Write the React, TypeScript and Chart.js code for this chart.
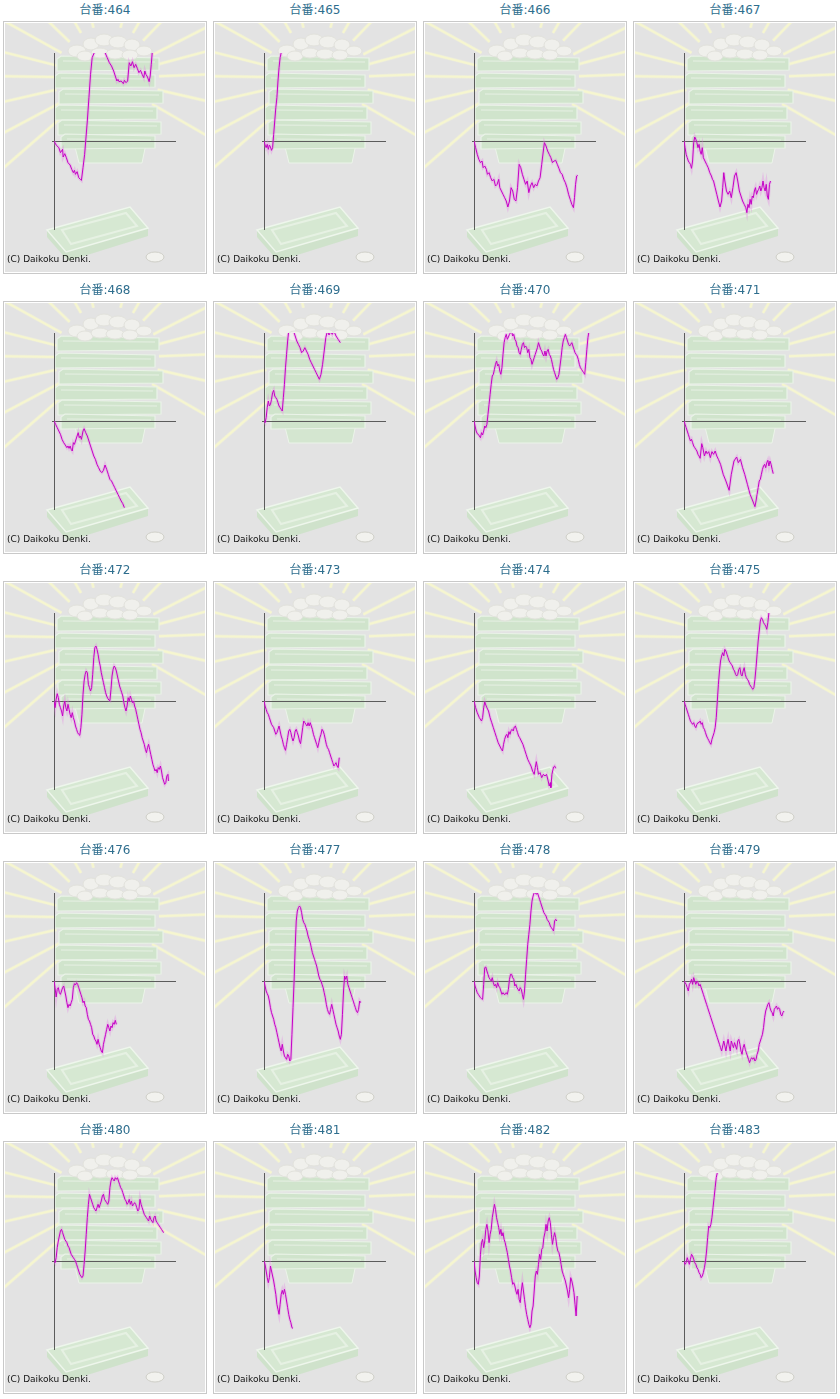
import React, { useEffect, useRef } from 'react';
import { Chart, registerables } from 'chart.js';

Chart.register(...registerables);

// 台番 (machine numbers), left to right, top to bottom
const machineNumbers = [
  '464', '465', '466', '467', '468', '469', '470', '471', '472', '473',
  '474', '475', '476', '477', '478', '479', '480', '481', '482', '483',
];

// axis range: games played (x) and coin difference (y)
const GAMES_MAX = 9080;
const COINS_LIMIT = 2640;

// each series: [games, coin difference]
const slump464 = [
  [0, 0], [160, -120], [360, -200], [480, -350], [640, -250], [680, -480], [800, -380], [920, -500],
  [1040, -650], [1200, -720], [1320, -850], [1440, -950], [1520, -880], [1600, -1000], [1720, -920],
  [1840, -1100], [1960, -1150], [2040, -1180], [2160, -800], [2280, -400], [2360, 0], [2480, 600],
  [2600, 1300], [2720, 2000], [2840, 2500], [3000, 2650], [3240, 3100], [3480, 3200], [3800, 2650],
  [3960, 2500], [4120, 2350], [4280, 2250], [4440, 2100], [4560, 1950], [4680, 1800], [4760, 1850],
  [4840, 1780], [5000, 1800], [5160, 1720], [5240, 1820], [5360, 1750], [5480, 1800], [5600, 2350],
  [5720, 2250], [5840, 2380], [5960, 2200], [6080, 2300], [6200, 2180], [6320, 2050], [6440, 2120],
  [6560, 2000], [6680, 1900], [6760, 2100], [6840, 2000], [6960, 1920], [7080, 1780], [7160, 1950],
  [7240, 2300], [7320, 2700],
];

const slump465 = [
  [0, 0], [80, -120], [160, -200], [240, -100], [320, -250], [400, -120], [480, -180], [560, -280],
  [640, -200], [720, 200], [800, 600], [880, 1000], [960, 1300], [1040, 1800], [1120, 2200],
  [1200, 2500], [1280, 2650], [1360, 2900],
];

const slump466 = [
  [0, 0], [120, -200], [240, -400], [360, -550], [480, -650], [600, -600], [680, -800], [800, -750],
  [920, -850], [1000, -1000], [1120, -950], [1240, -1100], [1360, -1200], [1480, -1150], [1600, -1350],
  [1720, -1300], [1840, -1150], [1920, -1400], [2040, -1500], [2160, -1600], [2280, -1700], [2400, -1800],
  [2520, -1980], [2640, -1800], [2760, -1400], [2880, -1500], [3000, -1750], [3120, -1800], [3240, -1400],
  [3360, -700], [3480, -800], [3600, -1000], [3720, -1150], [3840, -1300], [3960, -1200], [4080, -1550],
  [4200, -1350], [4320, -1250], [4440, -1400], [4560, -1300], [4680, -1350], [4800, -1200], [4920, -1100],
  [5040, -700], [5160, -300], [5240, -50], [5360, -150], [5480, -300], [5600, -400], [5720, -500],
  [5840, -650], [5960, -600], [6080, -580], [6200, -700], [6320, -820], [6440, -950], [6560, -1000],
  [6680, -1150], [6800, -1250], [6920, -1400], [7040, -1600], [7160, -1750], [7280, -1900], [7400, -2000],
  [7480, -1700], [7560, -1300], [7640, -1050], [7720, -1030],
];

const slump467 = [
  [0, 0], [80, -200], [160, -400], [240, -500], [320, -600], [400, -650], [480, -700], [560, -820],
  [640, -600], [720, -50], [800, 120], [880, 50], [960, -50], [1040, -200], [1120, -100], [1200, -300],
  [1280, -400], [1360, -200], [1440, -500], [1560, -600], [1680, -700], [1800, -800], [1920, -950],
  [2040, -1050], [2120, -1150], [2200, -1200], [2320, -1400], [2440, -1600], [2560, -1800], [2680, -1980],
  [2800, -1800], [2880, -1400], [2960, -950], [3040, -1200], [3160, -1500], [3280, -1600], [3400, -1500],
  [3520, -1700], [3640, -1400], [3760, -1050], [3880, -950], [4000, -1200], [4120, -1500], [4240, -1650],
  [4360, -1800], [4480, -1900], [4600, -2000], [4680, -2150], [4760, -1900], [4840, -2000], [4920, -1750],
  [5000, -1900], [5080, -1650], [5160, -1700], [5240, -1500], [5320, -1400], [5400, -1600], [5480, -1500],
  [5560, -1450], [5640, -1350], [5720, -1500], [5800, -1400], [5880, -1200], [5960, -1400], [6040, -1500],
  [6120, -1300], [6200, -1650], [6280, -1750], [6360, -1300], [6440, -1200],
];

const slump468 = [
  [0, 0], [120, -100], [240, -200], [360, -300], [480, -400], [600, -550], [720, -650], [840, -720],
  [960, -800], [1040, -750], [1120, -820], [1200, -750], [1280, -850], [1360, -900], [1440, -650],
  [1520, -700], [1600, -600], [1720, -450], [1800, -350], [1880, -500], [1960, -450], [2040, -550],
  [2160, -300], [2240, -230], [2360, -350], [2480, -450], [2600, -600], [2720, -750], [2840, -900],
  [2960, -1050], [3080, -1150], [3200, -1300], [3320, -1400], [3440, -1500], [3560, -1550], [3680, -1480],
  [3800, -1320], [3920, -1450], [4040, -1600], [4160, -1750], [4280, -1800], [4400, -1900], [4520, -2000],
  [4640, -2100], [4760, -2200], [4880, -2300], [5000, -2400], [5120, -2480], [5240, -2600],
];

const slump469 = [
  [0, 0], [80, -50], [160, 100], [240, 400], [320, 600], [400, 450], [480, 500], [560, 650], [640, 850],
  [720, 920], [800, 750], [880, 700], [960, 650], [1040, 550], [1120, 450], [1200, 400], [1280, 350],
  [1360, 300], [1440, 700], [1520, 1100], [1600, 1600], [1680, 2000], [1760, 2400], [1840, 2700],
  [2000, 2900], [2240, 2650], [2320, 2550], [2440, 2400], [2560, 2300], [2680, 2200], [2800, 2050],
  [2920, 2100], [3040, 2200], [3160, 2100], [3280, 2000], [3400, 1850], [3520, 1750], [3640, 1650],
  [3760, 1550], [3880, 1450], [4000, 1350], [4120, 1250], [4240, 1400], [4360, 1700], [4480, 2100],
  [4600, 2500], [4720, 2700], [4840, 2580], [4960, 2680], [5080, 2600], [5200, 2700], [5360, 2550],
  [5520, 2450], [5680, 2350],
];

const slump470 = [
  [0, 0], [80, -150], [160, -300], [240, -380], [320, -400], [400, -450], [480, -500], [560, -350],
  [640, -420], [720, -300], [800, -150], [880, -200], [960, -100], [1040, 200], [1120, 500], [1200, 800],
  [1280, 1100], [1360, 1350], [1440, 1400], [1520, 1550], [1600, 1700], [1680, 1800], [1760, 1650],
  [1840, 1700], [1920, 1500], [2000, 1400], [2080, 1600], [2160, 2000], [2240, 2350], [2320, 2500],
  [2400, 2600], [2480, 2450], [2560, 2520], [2640, 2600], [2720, 2650], [2800, 2700], [2880, 2550],
  [2960, 2600], [3040, 2450], [3120, 2400], [3200, 2250], [3280, 2200], [3360, 2050], [3440, 2000],
  [3520, 2150], [3600, 2300], [3680, 2350], [3760, 2200], [3840, 2250], [3920, 2200], [4000, 2050],
  [4080, 2150], [4160, 1900], [4240, 1850], [4320, 1700], [4400, 1800], [4480, 1900], [4560, 2000],
  [4640, 2100], [4720, 2200], [4800, 2350], [4880, 2250], [4960, 2150], [5040, 2100], [5120, 2000],
  [5200, 1950], [5280, 2100], [5360, 1950], [5440, 2100], [5520, 2150], [5600, 2000], [5680, 1950],
  [5760, 1850], [5840, 1700], [5920, 1550], [6000, 1450], [6080, 1350], [6160, 1250], [6240, 1300],
  [6320, 1400], [6400, 1650], [6480, 1900], [6560, 2200], [6640, 2400], [6720, 2500], [6800, 2600],
  [6880, 2500], [6960, 2400], [7040, 2300], [7120, 2250], [7200, 2300], [7280, 2350], [7360, 2250],
  [7440, 2150], [7520, 2050], [7600, 2000], [7680, 1950], [7760, 1850], [7840, 1700], [7920, 1600],
  [8000, 1550], [8080, 1500], [8160, 1450], [8240, 1400], [8320, 1750], [8400, 2150], [8480, 2500],
  [8560, 2700],
];

const slump471 = [
  [0, 0], [80, -100], [160, -200], [240, -300], [320, -400], [400, -500], [480, -600], [560, -550],
  [640, -650], [720, -750], [800, -800], [880, -850], [960, -900], [1040, -1000], [1120, -1050],
  [1200, -1120], [1320, -680], [1400, -800], [1520, -1050], [1640, -900], [1720, -980], [1840, -920],
  [1960, -1100], [2080, -920], [2200, -1000], [2320, -900], [2440, -1050], [2560, -1150], [2720, -1300],
  [2920, -1600], [3120, -1800], [3360, -2080], [3520, -1600], [3720, -1200], [3920, -1080], [4040, -1250],
  [4200, -1150], [4360, -1400], [4520, -1600], [4720, -1900], [4920, -2200], [5120, -2400], [5280, -2570],
  [5360, -2400], [5440, -2200], [5520, -2000], [5600, -1800], [5680, -1750], [5760, -1600], [5840, -1450],
  [5920, -1350], [6000, -1300], [6080, -1400], [6160, -1250], [6240, -1180], [6320, -1350], [6400, -1200],
  [6480, -1300], [6560, -1450], [6640, -1580],
];

const slump472 = [
  [0, 0], [80, -200], [160, 50], [240, 220], [320, 100], [400, -100], [480, -200], [560, -300],
  [640, -450], [720, -150], [800, 0], [880, -200], [960, -300], [1040, -100], [1120, -250], [1200, -400],
  [1280, -500], [1360, -350], [1440, -500], [1520, -600], [1600, -750], [1680, -850], [1760, -950],
  [1840, -1000], [1920, -1030], [2000, -800], [2080, -400], [2160, 200], [2240, 600], [2320, 800],
  [2400, 900], [2480, 850], [2560, 500], [2640, 400], [2720, 300], [2800, 400], [2880, 800], [2960, 1300],
  [3040, 1600], [3120, 1650], [3200, 1550], [3280, 1400], [3360, 1200], [3440, 1050], [3520, 850],
  [3600, 700], [3680, 550], [3760, 400], [3840, 250], [3920, 150], [4000, 80], [4080, 30], [4160, 10],
  [4240, 350], [4320, 750], [4400, 950], [4480, 1050], [4560, 1000], [4640, 900], [4720, 750],
  [4800, 600], [4880, 450], [4960, 350], [5040, 250], [5120, 150], [5200, -50], [5280, -200], [5360, -300],
  [5440, -150], [5520, 100], [5600, 0], [5680, 150], [5760, 50], [5840, -50], [5920, 0], [6000, -150],
  [6080, -250], [6160, -400], [6240, -550], [6320, -700], [6400, -850], [6480, -950], [6560, -1100],
  [6640, -1200], [6720, -1300], [6800, -1450], [6880, -1550], [6960, -1400], [7040, -1300], [7120, -1450],
  [7200, -1600], [7280, -1750], [7360, -1900], [7440, -2000], [7520, -2100], [7600, -2050], [7680, -2150],
  [7760, -2000], [7840, -2050], [7920, -1950], [8000, -2100], [8080, -2300], [8160, -2400], [8240, -2500],
  [8320, -2450], [8400, -2250], [8480, -2200], [8520, -2400],
];

const slump473 = [
  [0, 0], [80, -150], [160, -250], [240, -350], [320, -400], [400, -500], [480, -600], [560, -700],
  [640, -750], [720, -800], [800, -900], [880, -1000], [960, -950], [1040, -850], [1120, -750],
  [1200, -900], [1280, -1050], [1360, -1150], [1440, -1300], [1520, -1400], [1600, -1480], [1680, -1300],
  [1760, -1100], [1840, -900], [1920, -850], [2000, -950], [2080, -1100], [2160, -1200], [2240, -1100],
  [2320, -900], [2400, -850], [2480, -950], [2560, -1050], [2640, -1200], [2720, -1280], [2800, -1050],
  [2880, -800], [2960, -600], [3040, -650], [3120, -700], [3200, -750], [3280, -650], [3360, -750],
  [3440, -650], [3520, -750], [3600, -850], [3680, -1000], [3760, -1100], [3840, -1200], [3920, -1300],
  [4000, -1400], [4080, -1250], [4160, -1100], [4240, -1000], [4320, -850], [4400, -900], [4480, -1000],
  [4560, -1150], [4640, -1300], [4720, -1400], [4800, -1450], [4880, -1550], [4960, -1650], [5040, -1750],
  [5120, -1850], [5200, -1950], [5280, -1900], [5360, -1850], [5440, -1950], [5520, -2000], [5600, -1700],
];

const slump474 = [
  [0, 0], [120, -200], [240, -350], [400, -500], [560, -600], [640, -500], [720, -200], [800, -30],
  [880, -120], [960, -200], [1080, -300], [1200, -500], [1320, -650], [1440, -800], [1560, -950],
  [1680, -1100], [1800, -1250], [1920, -1350], [2040, -1450], [2120, -1500], [2200, -1300], [2280, -1150],
  [2360, -1050], [2440, -1000], [2520, -1100], [2600, -920], [2680, -1000], [2760, -880], [2840, -850],
  [2920, -900], [3000, -780], [3080, -750], [3160, -850], [3240, -950], [3320, -1050], [3400, -1100],
  [3520, -1200], [3640, -1300], [3760, -1450], [3880, -1600], [4000, -1750], [4120, -1850], [4240, -1950],
  [4360, -2100], [4480, -2200], [4560, -2000], [4640, -1820], [4720, -2000], [4800, -2200], [4920, -2150],
  [5040, -2300], [5160, -2200], [5280, -2250], [5400, -2200], [5520, -2400], [5600, -2550], [5680, -2450],
  [5720, -2600], [5800, -2200], [5920, -1980], [6000, -1950], [6080, -2020],
];

const slump475 = [
  [0, 0], [80, -100], [160, -200], [240, -300], [320, -400], [400, -500], [480, -600], [560, -650],
  [640, -700], [720, -650], [800, -750], [880, -800], [960, -700], [1040, -650], [1120, -650], [1200, -600],
  [1280, -700], [1360, -650], [1440, -800], [1520, -850], [1600, -950], [1680, -1050], [1760, -1120],
  [1840, -1180], [1920, -1250], [2000, -1300], [2080, -1150], [2160, -1050], [2240, -950], [2320, -800],
  [2400, -500], [2480, 0], [2560, 500], [2640, 900], [2720, 1200], [2800, 1350], [2880, 1450], [2960, 1350],
  [3040, 1550], [3120, 1500], [3200, 1400], [3280, 1300], [3360, 1200], [3440, 1150], [3520, 1100],
  [3600, 1050], [3680, 950], [3760, 900], [3840, 800], [3920, 750], [4000, 800], [4080, 950], [4160, 1000],
  [4240, 800], [4320, 750], [4400, 900], [4480, 1000], [4560, 800], [4640, 700], [4720, 650], [4800, 600],
  [4880, 500], [4960, 450], [5040, 400], [5120, 350], [5200, 400], [5280, 650], [5360, 1000], [5440, 1400],
  [5520, 1800], [5600, 2100], [5680, 2400], [5760, 2500], [5840, 2450], [5920, 2350], [6000, 2300],
  [6080, 2250], [6160, 2150], [6240, 2350], [6320, 2650], [6400, 2850],
];

const slump476 = [
  [0, 0], [80, -200], [160, -480], [240, -250], [320, -200], [400, -350], [480, -400], [560, -300],
  [640, -200], [720, -150], [800, -300], [880, -450], [960, -650], [1040, -800], [1120, -700], [1200, -750],
  [1280, -650], [1360, -550], [1440, -200], [1520, -80], [1600, -120], [1680, -50], [1760, -100],
  [1840, -200], [1920, -300], [2000, -400], [2080, -500], [2160, -650], [2240, -600], [2320, -750],
  [2400, -800], [2480, -1000], [2560, -1150], [2640, -1200], [2720, -1300], [2800, -1400], [2880, -1600],
  [2960, -1650], [3040, -1750], [3120, -1800], [3200, -1900], [3280, -1750], [3360, -1900], [3440, -2000],
  [3520, -2100], [3600, -2150], [3680, -1900], [3760, -1750], [3840, -1600], [3920, -1450], [4000, -1300],
  [4080, -1400], [4160, -1500], [4240, -1350], [4320, -1400], [4400, -1250], [4480, -1300], [4560, -1180],
  [4640, -1300],
];

const slump477 = [
  [0, 0], [80, -150], [160, -300], [240, -380], [320, -450], [400, -600], [480, -800], [560, -950],
  [640, -1050], [720, -1150], [800, -1300], [880, -1400], [960, -1550], [1040, -1700], [1120, -1850],
  [1200, -2000], [1280, -2100], [1360, -1900], [1440, -2100], [1520, -2250], [1600, -2300], [1680, -2350],
  [1760, -2200], [1840, -2250], [1920, -2400], [2000, -2350], [2080, -1600], [2160, -800], [2240, 0],
  [2320, 1000], [2400, 1800], [2480, 2100], [2560, 2200], [2640, 2250], [2720, 2200], [2800, 2050],
  [2880, 1850], [2960, 1750], [3040, 1700], [3120, 1600], [3200, 1500], [3280, 1350], [3360, 1250],
  [3440, 1150], [3520, 1000], [3600, 850], [3680, 750], [3760, 650], [3840, 550], [3920, 450], [4000, 300],
  [4080, 150], [4160, 50], [4240, 0], [4320, -100], [4400, -200], [4480, -350], [4560, -500], [4640, -700],
  [4720, -850], [4800, -950], [4880, -1000], [4960, -850], [5040, -700], [5120, -850], [5200, -1000],
  [5280, -1150], [5360, -1300], [5440, -1400], [5520, -1500], [5600, -1650], [5680, -1750], [5760, -1600],
  [5840, -1000], [5920, -300], [6000, 150], [6080, 50], [6160, 150], [6240, -100], [6320, -200],
  [6400, -300], [6480, -400], [6560, -500], [6640, -600], [6720, -700], [6800, -800], [6880, -900],
  [6960, -950], [7040, -850], [7120, -600], [7200, -650],
];

const slump478 = [
  [0, 0], [80, -150], [160, -250], [240, -350], [320, -400], [400, -450], [480, -500], [560, -530],
  [640, -550], [720, -100], [800, 400], [880, 420], [960, 300], [1040, 200], [1120, 100], [1200, 50],
  [1280, 0], [1360, 100], [1440, -50], [1520, -150], [1600, -100], [1680, -200], [1760, -50], [1840, -150],
  [1920, -200], [2000, -300], [2080, -400], [2160, -350], [2240, -400], [2320, -400], [2400, -350],
  [2480, -400], [2560, -250], [2640, 50], [2720, 200], [2800, 200], [2880, 100], [2960, 50], [3040, -150],
  [3120, -100], [3200, -200], [3280, -250], [3360, -300], [3440, -200], [3520, -250], [3600, -400],
  [3680, -550], [3760, -300], [3840, 200], [3920, 650], [4000, 1100], [4080, 1400], [4160, 1700],
  [4240, 2100], [4320, 2400], [4400, 2550], [4480, 2650], [4560, 2650], [4640, 2600], [4720, 2650],
  [4800, 2550], [4880, 2450], [4960, 2350], [5040, 2250], [5120, 2150], [5200, 2050], [5280, 2000],
  [5360, 1950], [5440, 1850], [5520, 1800], [5600, 1750], [5680, 1650], [5760, 1600], [5840, 1550],
  [5920, 1500], [6000, 1800], [6080, 1850], [6160, 1800],
];

const slump479 = [
  [0, 0], [80, -50], [160, -100], [240, -200], [320, -300], [400, -100], [480, -50], [560, 50],
  [640, -100], [720, 100], [800, 0], [880, -100], [960, 0], [1040, -50], [1120, -150], [1200, -100],
  [1280, -200], [1360, -300], [1440, -400], [1520, -500], [1600, -600], [1680, -700], [1760, -800],
  [1840, -900], [1920, -1000], [2000, -1100], [2080, -1200], [2160, -1300], [2240, -1400], [2320, -1500],
  [2400, -1600], [2480, -1700], [2560, -1800], [2640, -1900], [2720, -2000], [2800, -2100], [2880, -1950],
  [2960, -1800], [3040, -1950], [3120, -2100], [3200, -1900], [3280, -1750], [3360, -1950], [3440, -2100],
  [3520, -1800], [3600, -1900], [3680, -2000], [3760, -1850], [3840, -1950], [3920, -2050], [4000, -1800],
  [4080, -1750], [4160, -1900], [4240, -2100], [4320, -2200], [4400, -2000], [4480, -1900], [4560, -2050],
  [4640, -2150], [4720, -2250], [4800, -2350], [4880, -2450], [4960, -2350], [5040, -2300], [5120, -2350],
  [5200, -2300], [5280, -2400], [5360, -2350], [5440, -2200], [5520, -2100], [5600, -1900], [5680, -1800],
  [5760, -1700], [5840, -1600], [5920, -1400], [6000, -1100], [6080, -900], [6160, -800], [6240, -700],
  [6320, -650], [6400, -800], [6480, -900], [6560, -950], [6640, -1050], [6720, -850], [6800, -800],
  [6880, -750], [6960, -850], [7040, -800], [7120, -850], [7200, -1000], [7280, -1050], [7360, -950],
  [7440, -900],
];

const slump480 = [
  [0, 0], [80, -50], [160, 100], [240, 400], [320, 600], [400, 750], [480, 900], [560, 950], [640, 850],
  [720, 750], [800, 650], [880, 600], [960, 550], [1040, 450], [1120, 400], [1200, 300], [1280, 200],
  [1360, 150], [1440, 100], [1520, 50], [1600, 0], [1680, -100], [1760, -200], [1840, -300], [1920, -400],
  [2000, -450], [2080, -500], [2160, -450], [2240, -100], [2320, 300], [2400, 800], [2480, 1300],
  [2560, 1700], [2640, 2000], [2720, 1900], [2800, 1800], [2880, 1700], [2960, 1600], [3040, 1550],
  [3120, 1500], [3200, 1600], [3280, 1700], [3360, 1600], [3440, 1700], [3520, 1800], [3600, 1950],
  [3680, 2000], [3760, 1850], [3840, 1800], [3920, 1750], [4000, 1700], [4080, 1800], [4160, 2200],
  [4240, 2400], [4320, 2500], [4400, 2450], [4480, 2400], [4560, 2500], [4640, 2450], [4720, 2500],
  [4800, 2400], [4880, 2300], [4960, 2200], [5040, 2150], [5120, 2050], [5200, 1950], [5280, 1850],
  [5360, 1800], [5440, 1700], [5520, 1750], [5600, 1850], [5680, 1700], [5760, 1800], [5840, 1650],
  [5920, 1700], [6000, 1750], [6080, 1700], [6160, 1600], [6240, 1500], [6320, 1550], [6400, 1850],
  [6480, 1700], [6560, 1600], [6640, 1500], [6720, 1400], [6800, 1350], [6880, 1300], [6960, 1250],
  [7040, 1200], [7120, 1350], [7200, 1250], [7280, 1200], [7360, 1150], [7440, 1300], [7520, 1350],
  [7600, 1200], [7680, 1150], [7760, 1100], [7840, 1050], [7920, 1000], [8000, 950], [8080, 900],
  [8160, 850],
];

const slump481 = [
  [0, 0], [80, -100], [160, -300], [240, -500], [320, -650], [400, -500], [480, -150], [560, -300],
  [640, -450], [720, -600], [800, -800], [880, -1000], [960, -1300], [1040, -1450], [1120, -1600],
  [1200, -1300], [1280, -1000], [1360, -880], [1440, -1000], [1520, -850], [1600, -1000], [1680, -1200],
  [1760, -1400], [1840, -1600], [1920, -1750], [2000, -1850], [2080, -2000], [2160, -2020],
];

const slump482 = [
  [0, 0], [80, -300], [160, -500], [240, -650], [320, -700], [400, -450], [480, 200], [560, 550],
  [640, 650], [720, 400], [800, 600], [880, 950], [960, 1100], [1040, 900], [1120, 550], [1200, 800],
  [1280, 950], [1360, 1300], [1440, 1500], [1520, 1700], [1600, 1550], [1680, 1300], [1760, 1150],
  [1840, 1000], [1920, 800], [2000, 950], [2080, 750], [2160, 850], [2240, 650], [2320, 550], [2400, 400],
  [2480, 250], [2560, 50], [2640, -150], [2720, -300], [2800, -500], [2880, -700], [2960, -650],
  [3040, -750], [3120, -900], [3200, -1000], [3280, -850], [3360, -1150], [3440, -1250], [3520, -900],
  [3600, -650], [3680, -900], [3760, -1150], [3840, -1400], [3920, -1600], [4000, -1750], [4080, -1900],
  [4160, -2000], [4240, -1900], [4320, -1500], [4400, -1350], [4480, -900], [4560, -450], [4640, -300],
  [4720, -400], [4800, -100], [4880, 200], [4960, 50], [5040, 350], [5120, 400], [5200, 700], [5280, 850],
  [5360, 1100], [5440, 900], [5520, 1200], [5600, 1300], [5680, 1150], [5760, 800], [5840, 500],
  [5920, 700], [6000, 850], [6080, 700], [6160, 450], [6240, 300], [6320, 250], [6400, 100], [6480, -100],
  [6560, -300], [6640, -400], [6720, -500], [6800, -600], [6880, -750], [6960, -900], [7040, -1100],
  [7120, -850], [7200, -500], [7280, -600], [7360, -750], [7440, -950], [7520, -1300], [7600, -1650],
  [7680, -1050],
];

const slump483 = [
  [0, 0], [80, -100], [160, -50], [240, 100], [320, 0], [400, -100], [480, 50], [560, 200], [640, 150],
  [720, 50], [800, -50], [880, -100], [960, -200], [1040, -250], [1120, -350], [1200, -400], [1280, -500],
  [1360, -450], [1440, -350], [1520, -200], [1600, 0], [1680, 300], [1760, 700], [1840, 1050],
  [1920, 1000], [2000, 1100], [2080, 1300], [2160, 1600], [2240, 1900], [2320, 2200], [2400, 2500],
  [2480, 2650], [2560, 2900],
];

const slumpSeries = [
  slump464, slump465, slump466, slump467, slump468, slump469, slump470, slump471, slump472, slump473,
  slump474, slump475, slump476, slump477, slump478, slump479, slump480, slump481, slump482, slump483,
];

// ---- decorative panel backdrop (rays, box tower, coin tray) ----
const RAY_ANGLES = [46, 27, 15, 2, -13, -30, 60, 75, 105, 120, 136, 151, 166, 179, 193, 208, 221];

const TIERS = [
  [52, 154, 33], [50, 150, 50], [54, 158, 66], [50, 152, 82], [53, 156, 97], [56, 150, 111],
];

const CROWN = [
  [72, 28, 9, 6], [86, 21, 8, 6], [99, 17, 9, 6], [113, 19, 9, 6], [127, 22, 8, 6], [139, 28, 8, 5],
  [80, 33, 8, 5], [95, 30, 9, 5], [110, 31, 9, 5], [125, 32, 8, 5],
];

const backdrop = {
  id: 'backdrop',
  beforeDraw(chart: any) {
    const { ctx, width, height } = chart;
    ctx.save();
    ctx.fillStyle = '#e3e3e3';
    ctx.fillRect(0, 0, width, height);

    const cx = 102;
    const cy = 55;
    ctx.lineCap = 'butt';
    RAY_ANGLES.forEach((deg) => {
      const r = (deg * Math.PI) / 180;
      ctx.beginPath();
      ctx.moveTo(cx + Math.cos(r) * 52, cy - Math.sin(r) * 52);
      ctx.lineTo(cx + Math.cos(r) * 160, cy - Math.sin(r) * 160);
      ctx.strokeStyle = '#ececdc';
      ctx.lineWidth = 3.5;
      ctx.stroke();
      ctx.strokeStyle = '#f6f6cf';
      ctx.lineWidth = 2;
      ctx.stroke();
    });

    // base under the tower
    ctx.beginPath();
    ctx.moveTo(68, 116);
    ctx.lineTo(142, 116);
    ctx.lineTo(137, 140);
    ctx.lineTo(74, 140);
    ctx.closePath();
    ctx.fillStyle = '#d4e6d0';
    ctx.fill();
    ctx.strokeStyle = '#ecf4ea';
    ctx.lineWidth = 1;
    ctx.stroke();

    // stacked boxes
    TIERS.forEach(([x0, x1, y]) => {
      ctx.beginPath();
      ctx.moveTo(x0 + 4, y);
      ctx.lineTo(x1, y + 2);
      ctx.lineTo(x1, y + 14);
      ctx.lineTo(x0, y + 15);
      ctx.lineTo(x0, y + 3);
      ctx.closePath();
      ctx.fillStyle = '#d0e4cc';
      ctx.fill();
      ctx.strokeStyle = '#eaf3e8';
      ctx.lineWidth = 1.2;
      ctx.stroke();
      ctx.beginPath();
      ctx.moveTo(x0 + 6, y + 5);
      ctx.lineTo(x1 - 4, y + 6);
      ctx.strokeStyle = '#dfecdc';
      ctx.lineWidth = 1.5;
      ctx.stroke();
    });

    // crown of pale blobs
    CROWN.forEach(([x, y, rx, ry]) => {
      ctx.beginPath();
      ctx.ellipse(x, y, rx, ry, 0, 0, Math.PI * 2);
      ctx.fillStyle = '#f0f0ec';
      ctx.fill();
      ctx.strokeStyle = '#e2e2dc';
      ctx.lineWidth = 1;
      ctx.stroke();
    });

    // coin tray: front face, then top face and inner rim
    ctx.beginPath();
    ctx.moveTo(42, 207);
    ctx.lineTo(61, 229);
    ctx.lineTo(143, 205);
    ctx.lineTo(143, 213);
    ctx.lineTo(63, 238);
    ctx.lineTo(42, 214);
    ctx.closePath();
    ctx.fillStyle = '#cfe2cb';
    ctx.fill();
    ctx.beginPath();
    ctx.moveTo(42, 207);
    ctx.lineTo(125, 184);
    ctx.lineTo(143, 205);
    ctx.lineTo(61, 229);
    ctx.closePath();
    ctx.fillStyle = '#d6e8d2';
    ctx.fill();
    ctx.strokeStyle = '#eef6ec';
    ctx.lineWidth = 1.5;
    ctx.stroke();
    ctx.beginPath();
    ctx.moveTo(57, 207);
    ctx.lineTo(121, 190);
    ctx.lineTo(132, 203);
    ctx.lineTo(66, 221);
    ctx.closePath();
    ctx.strokeStyle = '#e6f1e3';
    ctx.lineWidth = 2;
    ctx.stroke();

    // coin
    ctx.beginPath();
    ctx.ellipse(150, 234, 9, 5, 0, 0, Math.PI * 2);
    ctx.fillStyle = '#f2f2ee';
    ctx.fill();
    ctx.strokeStyle = '#cfcfc8';
    ctx.lineWidth = 1;
    ctx.stroke();
    ctx.restore();
  },
};

const SlumpGraph = ({ points }: { points: number[][] }) => {
  const canvasRef = useRef<HTMLCanvasElement>(null);

  useEffect(() => {
    const chart = new Chart(canvasRef.current as HTMLCanvasElement, {
      type: 'line',
      data: {
        datasets: [
          {
            // main line
            data: points as any,
            borderColor: '#c600c6',
            borderWidth: 1,
            pointRadius: 0,
            fill: false,
            tension: 0,
            order: 0,
          },
          {
            // soft halo under the line
            data: points as any,
            borderColor: 'rgba(228, 120, 228, 0.3)',
            borderWidth: 3,
            pointRadius: 0,
            fill: false,
            tension: 0,
            order: 1,
          },
        ],
      },
      options: {
        animation: false,
        responsive: false,
        events: [],
        layout: { padding: { left: 47, right: 29, top: 30, bottom: 43 } },
        plugins: {
          legend: { display: false },
          tooltip: { enabled: false },
        },
        scales: {
          x: { type: 'linear', min: 0, max: GAMES_MAX, display: false },
          y: {
            min: -COINS_LIMIT,
            max: COINS_LIMIT,
            ticks: { display: false, stepSize: COINS_LIMIT },
            grid: {
              color: (c: any) => (c.tick && c.tick.value === 0 ? '#5c5c5c' : 'rgba(0,0,0,0)'),
              tickLength: 2,
              drawTicks: true,
            },
            border: { display: true, color: '#5c5c5c', width: 1 },
          },
        },
      },
      plugins: [backdrop],
    });

    return () => {
      chart.destroy();
    };
  }, [points]);

  return (
    <canvas
      ref={canvasRef}
      width={200}
      height={249}
      style={{ position: 'absolute', left: 1, top: 1, width: 200, height: 249 }}
    />
  );
};

const Cell = ({ machine, points }: { machine: string; points: number[][] }) => (
  <div style={{ position: 'relative', width: 210, height: 280 }}>
    <div
      style={{
        position: 'absolute',
        left: 0,
        top: 0,
        width: 210,
        height: 21,
        lineHeight: '20px',
        textAlign: 'center',
        fontFamily: '"DejaVu Sans", "Noto Sans CJK JP", sans-serif',
        fontSize: 12,
        color: '#2e6e8e',
      }}
    >
      台番:{machine}
    </div>
    <div
      style={{
        position: 'absolute',
        left: 3,
        top: 21,
        width: 202,
        height: 251,
        border: '1px solid #c9c9c9',
        background: '#ffffff',
      }}
    >
      <SlumpGraph points={points} />
      <div
        style={{
          position: 'absolute',
          left: 3,
          top: 232,
          lineHeight: '10px',
          fontFamily: '"DejaVu Sans", sans-serif',
          fontSize: 9,
          color: '#111111',
          whiteSpace: 'nowrap',
        }}
      >
        (C) Daikoku Denki.
      </div>
    </div>
  </div>
);

export default function App() {
  return (
    <div
      style={{
        position: 'absolute',
        left: 0,
        top: 0,
        width: 840,
        height: 1399,
        background: '#ffffff',
        display: 'grid',
        gridTemplateColumns: 'repeat(4, 210px)',
        gridAutoRows: '280px',
      }}
    >
      {machineNumbers.map((m, i) => (
        <Cell key={m} machine={m} points={slumpSeries[i]} />
      ))}
    </div>
  );
}
